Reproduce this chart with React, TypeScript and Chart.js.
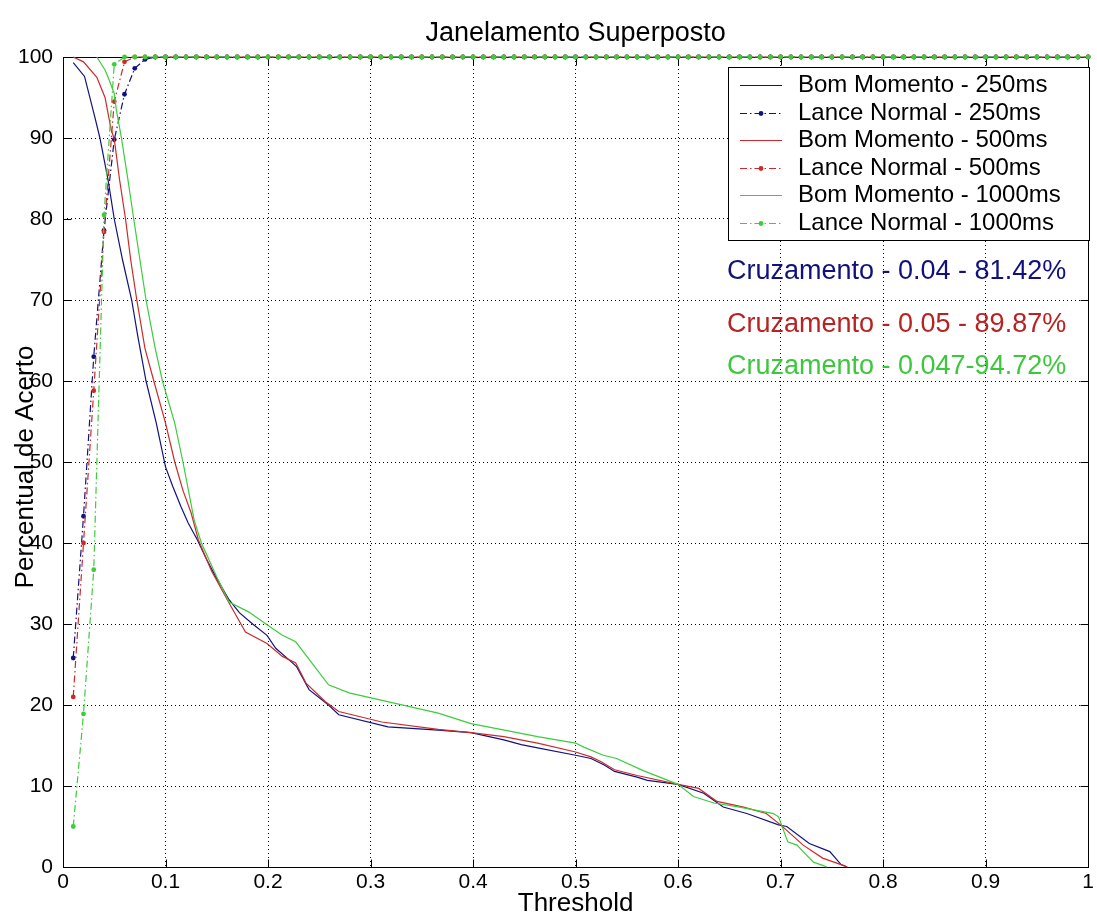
import React, { useEffect, useRef } from 'react';
import { Chart, registerables } from 'chart.js';

Chart.register(...registerables);

const TITLE = 'Janelamento Superposto';
const X_LABEL = 'Threshold';
const Y_LABEL = 'Percentual de Acerto';

const X_TICKS = [0, 0.1, 0.2, 0.3, 0.4, 0.5, 0.6, 0.7, 0.8, 0.9, 1];
const Y_TICKS = [0, 10, 20, 30, 40, 50, 60, 70, 80, 90, 100];

const SERIES_LABELS = [
  'Bom Momento - 250ms',
  'Lance Normal - 250ms',
  'Bom Momento - 500ms',
  'Lance Normal - 500ms',
  'Bom Momento - 1000ms',
  'Lance Normal - 1000ms',
];

const CROSSINGS = [
  'Cruzamento - 0.04 - 81.42%',
  'Cruzamento - 0.05 - 89.87%',
  'Cruzamento - 0.047-94.72%',
];

// Bom Momento - 250ms
const BM250_X = [0.01, 0.021, 0.031, 0.036, 0.044, 0.05, 0.058, 0.067, 0.073, 0.081, 0.091, 0.1, 0.107, 0.115, 0.122, 0.131, 0.14, 0.15, 0.162, 0.172, 0.185, 0.199, 0.2075, 0.223, 0.228, 0.24, 0.259, 0.269, 0.317, 0.366, 0.398, 0.43, 0.447, 0.463, 0.5, 0.515, 0.528, 0.538, 0.56, 0.57, 0.6, 0.625, 0.644, 0.667, 0.698, 0.706, 0.728, 0.748, 0.759, 0.765];
const BM250_Y = [99.3, 97.6, 92.6, 90, 84.8, 80, 75, 70, 65.5, 60, 54.8, 49.4, 47, 44.5, 42.5, 40.4, 38, 35.6, 33, 31.4, 30, 28.6, 27, 25.3, 24.7, 21.9, 20, 18.8, 17.3, 16.9, 16.6, 15.7, 15.1, 14.7, 13.8, 13.4, 12.6, 11.8, 11.1, 10.7, 10.2, 9.1, 7.4, 6.6, 5.2, 5, 2.9, 1.9, 0.3, 0];

// Bom Momento - 500ms
const BM500_X = [0.01, 0.02, 0.033, 0.041, 0.047, 0.05, 0.055, 0.061, 0.066, 0.072, 0.08, 0.0886, 0.1, 0.109, 0.117, 0.125, 0.132, 0.145, 0.162, 0.178, 0.199, 0.214, 0.227, 0.237, 0.256, 0.269, 0.311, 0.366, 0.398, 0.43, 0.463, 0.5, 0.515, 0.525, 0.538, 0.56, 0.6, 0.62, 0.638, 0.664, 0.686, 0.7, 0.722, 0.741, 0.761, 0.765];
const BM500_Y = [100, 99.4, 97.5, 95, 91, 89.9, 85, 80, 75, 70, 64, 60, 54.8, 50, 46.5, 43.7, 40.4, 36.5, 32.6, 29, 27.6, 26, 25.2, 22.7, 20.4, 19.2, 17.9, 17, 16.6, 16.1, 15.3, 14.2, 13.6, 13, 12, 11.3, 10.2, 9.7, 8.1, 7.4, 6.6, 5.2, 2.7, 1.1, 0.2, 0];

// Bom Momento - 1000ms
const BM1000_X = [0.033, 0.041, 0.044, 0.05, 0.052, 0.057, 0.0634, 0.069, 0.075, 0.081, 0.09, 0.097, 0.109, 0.117, 0.128, 0.135, 0.15, 0.162, 0.181, 0.199, 0.214, 0.227, 0.259, 0.279, 0.366, 0.398, 0.463, 0.5, 0.508, 0.527, 0.54, 0.566, 0.6, 0.615, 0.635, 0.66, 0.693, 0.698, 0.707, 0.716, 0.722, 0.732, 0.741, 0.745];
const BM1000_Y = [100, 98.4, 97.5, 95.5, 93.5, 90, 84.8, 80, 75, 70, 64, 60, 54.8, 50, 42.8, 40, 35.8, 32.7, 31.5, 29.9, 28.6, 27.8, 22.5, 21.5, 19, 17.7, 16.1, 15.3, 14.8, 13.8, 13.4, 11.9, 10.2, 8.7, 7.9, 7.4, 6.6, 6.2, 3.1, 2.7, 1.9, 0.6, 0.2, 0];

// Lance Normal (threshold grid)
const LN_X = [
  0.01, 0.02, 0.03, 0.04, 0.05, 0.06, 0.07, 0.08, 0.09, 0.1,
  0.11, 0.12, 0.13, 0.14, 0.15, 0.16, 0.17, 0.18, 0.19, 0.2,
  0.21, 0.22, 0.23, 0.24, 0.25, 0.26, 0.27, 0.28, 0.29, 0.3,
  0.31, 0.32, 0.33, 0.34, 0.35, 0.36, 0.37, 0.38, 0.39, 0.4,
  0.41, 0.42, 0.43, 0.44, 0.45, 0.46, 0.47, 0.48, 0.49, 0.5,
  0.51, 0.52, 0.53, 0.54, 0.55, 0.56, 0.57, 0.58, 0.59, 0.6,
  0.61, 0.62, 0.63, 0.64, 0.65, 0.66, 0.67, 0.68, 0.69, 0.7,
  0.71, 0.72, 0.73, 0.74, 0.75, 0.76, 0.77, 0.78, 0.79, 0.8,
  0.81, 0.82, 0.83, 0.84, 0.85, 0.86, 0.87, 0.88, 0.89, 0.9,
  0.91, 0.92, 0.93, 0.94, 0.95, 0.96, 0.97, 0.98, 0.99, 1,
];

const LN250_Y = [
  25.8, 43.3, 63, 78.6, 89.8, 95.4, 98.6, 99.7, 100, 100,
  100, 100, 100, 100, 100, 100, 100, 100, 100, 100,
  100, 100, 100, 100, 100, 100, 100, 100, 100, 100,
  100, 100, 100, 100, 100, 100, 100, 100, 100, 100,
  100, 100, 100, 100, 100, 100, 100, 100, 100, 100,
  100, 100, 100, 100, 100, 100, 100, 100, 100, 100,
  100, 100, 100, 100, 100, 100, 100, 100, 100, 100,
  100, 100, 100, 100, 100, 100, 100, 100, 100, 100,
  100, 100, 100, 100, 100, 100, 100, 100, 100, 100,
  100, 100, 100, 100, 100, 100, 100, 100, 100, 100,
];

const LN500_Y = [
  21, 40, 58.8, 78.4, 94.5, 99.4, 100, 100, 100, 100,
  100, 100, 100, 100, 100, 100, 100, 100, 100, 100,
  100, 100, 100, 100, 100, 100, 100, 100, 100, 100,
  100, 100, 100, 100, 100, 100, 100, 100, 100, 100,
  100, 100, 100, 100, 100, 100, 100, 100, 100, 100,
  100, 100, 100, 100, 100, 100, 100, 100, 100, 100,
  100, 100, 100, 100, 100, 100, 100, 100, 100, 100,
  100, 100, 100, 100, 100, 100, 100, 100, 100, 100,
  100, 100, 100, 100, 100, 100, 100, 100, 100, 100,
  100, 100, 100, 100, 100, 100, 100, 100, 100, 100,
];

const LN1000_Y = [
  5, 18.9, 36.7, 80.5, 99.1, 100, 100, 100, 100, 100,
  100, 100, 100, 100, 100, 100, 100, 100, 100, 100,
  100, 100, 100, 100, 100, 100, 100, 100, 100, 100,
  100, 100, 100, 100, 100, 100, 100, 100, 100, 100,
  100, 100, 100, 100, 100, 100, 100, 100, 100, 100,
  100, 100, 100, 100, 100, 100, 100, 100, 100, 100,
  100, 100, 100, 100, 100, 100, 100, 100, 100, 100,
  100, 100, 100, 100, 100, 100, 100, 100, 100, 100,
  100, 100, 100, 100, 100, 100, 100, 100, 100, 100,
  100, 100, 100, 100, 100, 100, 100, 100, 100, 100,
];

const FONT = '"Liberation Sans", Arial, Helvetica, sans-serif';
const BLUE = '#12127e';
const RED = '#cc2a2a';
const GREEN = '#3ccc3c';
const TEXT_COLORS = ['#10107e', '#b82222', '#3cc83c'];
const DASH_DOT = [7, 3, 1.5, 3];

const W = 1097;
const H = 913;

function pts(xs: number[], ys: number[]) {
  return xs.map((x, i) => ({ x, y: ys[i] }));
}

const overlayPlugin = {
  id: 'overlay',
  beforeDatasetsDraw(chart: any) {
    const { ctx, chartArea: a, scales } = chart;
    ctx.save();
    ctx.strokeStyle = '#000';
    ctx.lineWidth = 1;
    ctx.setLineDash([]);
    const L = Math.round(a.left) + 0.5;
    const R = Math.round(a.right) + 0.5;
    const T = Math.round(a.top) + 0.5;
    const B = Math.round(a.bottom) + 0.5;
    ctx.strokeRect(L, T, R - L, B - T);
    const len = 8;
    ctx.beginPath();
    for (const v of X_TICKS) {
      const px = Math.round(scales.x.getPixelForValue(v)) + 0.5;
      ctx.moveTo(px, B);
      ctx.lineTo(px, B - len);
      ctx.moveTo(px, T);
      ctx.lineTo(px, T + len);
    }
    for (const v of Y_TICKS) {
      const py = Math.round(scales.y.getPixelForValue(v)) + 0.5;
      ctx.moveTo(L, py);
      ctx.lineTo(L + len, py);
      ctx.moveTo(R, py);
      ctx.lineTo(R - len, py);
    }
    ctx.stroke();
    ctx.restore();
  },
  afterDraw(chart: any) {
    const { ctx, chartArea: a } = chart;
    ctx.save();
    ctx.fillStyle = '#000';
    // Title
    ctx.font = `27px ${FONT}`;
    ctx.textAlign = 'center';
    ctx.textBaseline = 'alphabetic';
    ctx.fillText(TITLE, (a.left + a.right) / 2, 41);
    // X label
    ctx.font = `26px ${FONT}`;
    ctx.fillText(X_LABEL, (a.left + a.right) / 2, 911);
    // Y label
    ctx.save();
    ctx.translate(33, 467);
    ctx.rotate(-Math.PI / 2);
    ctx.fillText(Y_LABEL, 0, 0);
    ctx.restore();

    // Crossing annotations
    ctx.font = `27px ${FONT}`;
    ctx.textAlign = 'left';
    ctx.textBaseline = 'middle';
    const annY = [272, 325, 367];
    CROSSINGS.forEach((t, i) => {
      ctx.fillStyle = TEXT_COLORS[i];
      ctx.fillText(t, 727, annY[i]);
    });

    // Legend
    const lx = 728, ly = 67, lw = 361, lh = 173;
    ctx.fillStyle = '#fff';
    ctx.fillRect(lx, ly, lw, lh);
    ctx.strokeStyle = '#000';
    ctx.lineWidth = 1;
    ctx.strokeRect(lx + 0.5, ly + 0.5, lw, lh);
    ctx.font = `24px ${FONT}`;
    ctx.textBaseline = 'middle';
    chart.data.datasets.forEach((ds: any, i: number) => {
      const cy = Math.round(85 + i * 27.5) + 0.5;
      ctx.save();
      ctx.strokeStyle = ds.borderColor;
      ctx.lineWidth = ds.borderWidth;
      ctx.setLineDash(ds.borderDash || []);
      ctx.beginPath();
      ctx.moveTo(740, cy);
      ctx.lineTo(782, cy);
      ctx.stroke();
      if (ds.pointRadius > 0) {
        ctx.fillStyle = ds.borderColor;
        ctx.beginPath();
        ctx.arc(761, cy, ds.pointRadius, 0, Math.PI * 2);
        ctx.fill();
      }
      ctx.restore();
      ctx.fillStyle = '#000';
      ctx.fillText(ds.label, 798, cy);
    });
    ctx.restore();
  },
};

export default function App() {
  const canvasRef = useRef<HTMLCanvasElement | null>(null);

  useEffect(() => {
    const canvas = canvasRef.current;
    if (!canvas) return;

    const colors = [BLUE, BLUE, RED, RED, GREEN, GREEN];
    const seriesData = [
      pts(BM250_X, BM250_Y),
      pts(LN_X, LN250_Y),
      pts(BM500_X, BM500_Y),
      pts(LN_X, LN500_Y),
      pts(BM1000_X, BM1000_Y),
      pts(LN_X, LN1000_Y),
    ];

    const datasets = seriesData.map((data, i) => {
      const isLN = i % 2 === 1;
      return {
        label: SERIES_LABELS[i],
        data,
        borderColor: colors[i],
        backgroundColor: colors[i],
        borderWidth: 1.2,
        borderDash: isLN ? DASH_DOT : [],
        pointRadius: isLN ? 2.4 : 0,
        pointHoverRadius: 0,
        pointBorderWidth: 0,
        pointBackgroundColor: colors[i],
        pointStyle: 'circle',
        tension: 0,
        fill: false,
        clip: false,
        order: 5 - i,
      };
    });

    const tickFont = { family: FONT, size: 21 };

    const chart = new Chart(canvas, {
      type: 'line',
      data: { datasets },
      options: {
        responsive: false,
        animation: false,
        devicePixelRatio: 1,
        events: [],
        layout: { padding: { top: 57, right: 5, left: 0, bottom: 0 } },
        plugins: {
          legend: { display: false },
          title: { display: false },
          tooltip: { enabled: false },
        },
        scales: {
          x: {
            type: 'linear',
            min: 0,
            max: 1,
            afterBuildTicks: (s: any) => {
              s.ticks = X_TICKS.map((v) => ({ value: v }));
            },
            afterFit: (s: any) => {
              s.height = 46;
            },
            ticks: {
              autoSkip: false,
              maxRotation: 0,
              minRotation: 0,
              font: tickFont,
              color: '#000',
              padding: 3,
              callback: (v: any) => String(v),
            },
            grid: { color: '#000', lineWidth: 1, drawTicks: false },
            border: { display: false, dash: [1, 3] },
          },
          y: {
            type: 'linear',
            min: 0,
            max: 100,
            afterBuildTicks: (s: any) => {
              s.ticks = Y_TICKS.map((v) => ({ value: v }));
            },
            afterFit: (s: any) => {
              s.width = 63;
            },
            ticks: {
              autoSkip: false,
              font: tickFont,
              color: '#000',
              padding: 10,
              callback: (v: any) => String(v),
            },
            grid: { color: '#000', lineWidth: 1, drawTicks: false },
            border: { display: false, dash: [1, 3] },
          },
        },
      },
      plugins: [overlayPlugin],
    } as any);

    return () => {
      chart.destroy();
    };
  }, []);

  return (
    <div style={{ position: 'absolute', left: 0, top: 0, width: W, height: H, background: '#fff' }}>
      <canvas ref={canvasRef} width={W} height={H} style={{ display: 'block', width: W, height: H }} />
    </div>
  );
}
